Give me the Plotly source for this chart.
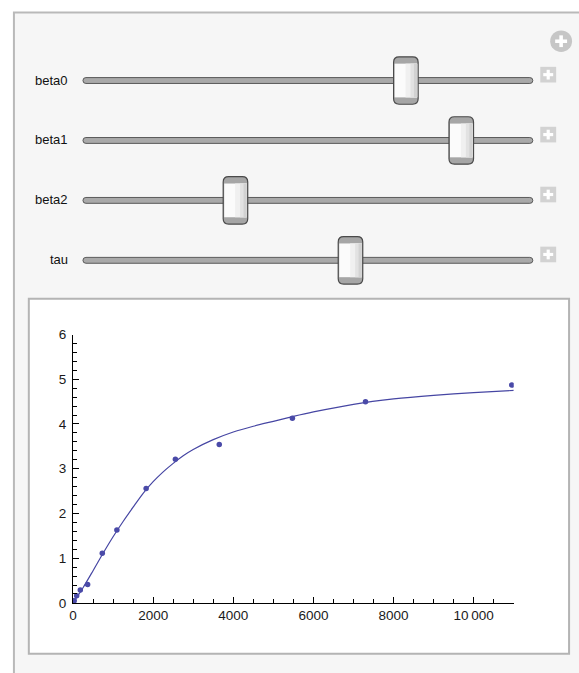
import plotly.graph_objects as go

# ---------------- data ----------------
maturity_days = [30, 91, 182, 365, 730, 1095, 1825, 2555, 3650, 5475, 7300, 10950]
observed_yield = [0.05, 0.16, 0.29, 0.41, 1.11, 1.63, 2.56, 3.21, 3.54, 4.13, 4.50, 4.87]

curve_days = [0, 250, 500, 750, 1000, 1250, 1500, 1750, 2000, 2250, 2500, 2750, 3000,
              3500, 4000, 4500, 5000, 5500, 6000, 7000, 8000, 9000, 10000, 11000]
curve_yield = [0.0, 0.34, 0.72, 1.11, 1.48, 1.82, 2.14, 2.45, 2.71, 2.93, 3.12, 3.29, 3.43,
               3.65, 3.82, 3.95, 4.06, 4.17, 4.27, 4.44, 4.56, 4.64, 4.70, 4.75]

slider_names = ["beta0", "beta1", "beta2", "tau"]
slider_values = [0.73, 0.86, 0.33, 0.60]   # normalised slider positions (0..1)

x_tick_vals = [0, 2000, 4000, 6000, 8000, 10000]
x_tick_text = ["0", "2000", "4000", "6000", "8000", "10\u2009000"]
y_tick_vals = [0, 1, 2, 3, 4, 5, 6]

# ---------------- geometry helpers (pixels -> paper) ----------------
W, H = 579, 673


def px(x):
    return x / W


def py(y):
    return 1 - y / H


def rrect_path(x0, y0, x1, y1, r):
    pts = [
        ("M", (x0 + r, y0)), ("L", (x1 - r, y0)), ("Q", (x1, y0), (x1, y0 + r)),
        ("L", (x1, y1 - r)), ("Q", (x1, y1), (x1 - r, y1)),
        ("L", (x0 + r, y1)), ("Q", (x0, y1), (x0, y1 - r)),
        ("L", (x0, y0 + r)), ("Q", (x0, y0), (x0 + r, y0)),
    ]
    s = ""
    for item in pts:
        cmd = item[0]
        coords = " ".join(f"{px(a):.5f},{py(b):.5f}" for a, b in item[1:])
        s += f"{cmd}{coords} "
    return s + "Z"


shapes = []
annotations = []


def rect(x0, y0, x1, y1, fill, line_color=None, lw=0, layer="above"):
    shapes.append(dict(type="rect", xref="paper", yref="paper",
                       x0=px(x0), x1=px(x1), y0=py(y1), y1=py(y0),
                       fillcolor=fill, layer=layer,
                       line=dict(color=line_color or fill, width=lw)))


def path(d, fill, line_color, lw=1, layer="above"):
    shapes.append(dict(type="path", xref="paper", yref="paper", path=d,
                       fillcolor=fill, layer=layer,
                       line=dict(color=line_color, width=lw)))


# outer manipulate panel
rect(10, 5.5, 600, 700, "#f6f6f6", "#b9b9b9", 2, layer="below")
# inner plot frame
rect(25, 298.5, 569, 661.5, "#ffffff", "#b4b4b4", 2, layer="below")

# top-right circular plus button
shapes.append(dict(type="circle", xref="paper", yref="paper",
                   x0=px(550), x1=px(572), y0=py(46), y1=py(24),
                   fillcolor="#c6c6c6", line=dict(color="#c6c6c6", width=0)))
rect(559.2, 29, 562.8, 41, "#ffffff")
rect(555, 33.2, 567, 36.8, "#ffffff")

# sliders
rail_x0, rail_x1 = 79.5, 532.5
row_y0, row_dy = 75.2, 61.3
thumb_w, thumb_h = 24.7, 48.5
for i, (name, val) in enumerate(zip(slider_names, slider_values)):
    yc = row_y0 + i * row_dy
    # rail
    path(rrect_path(rail_x0, yc - 3, rail_x1, yc + 3, 3), "#a9a9a9", "#5a5a5a", 1)
    # label
    annotations.append(dict(x=px(66.5), y=py(yc - 0.5), xref="paper", yref="paper",
                            text=name, showarrow=False, xanchor="right", yanchor="middle",
                            font=dict(family="Liberation Sans, Arial, sans-serif",
                                      size=13, color="#111111")))
    # plus box at right
    rect(540, yc - 14, 556, yc + 2, "#d2d2d2")
    rect(546.4, yc - 11, 549.6, yc - 1, "#ffffff")
    rect(543, yc - 7.6, 553, yc - 4.4, "#ffffff")
    # thumb
    xc = rail_x0 + 12 + val * (rail_x1 - rail_x0 - 24)
    tx0, tx1 = xc - thumb_w / 2, xc + thumb_w / 2
    ty0, ty1 = yc - thumb_h / 2, yc + thumb_h / 2
    path(rrect_path(tx0, ty0, tx1, ty1, 5.5), "#a6a6a6", "#4a4a4a", 1.2)
    rect(tx0 + 1, ty0 + 7, tx1 - 1, ty1 - 7, "#fbfbfb")
    rect(tx0 + 12, ty0 + 7, tx1 - 1, ty1 - 7, "#f0f0f0")
    rect(tx0 + 17, ty0 + 7, tx1 - 1, ty1 - 7, "#e2e2e2")
    rect(tx0 + 20.5, ty0 + 7, tx1 - 1, ty1 - 7, "#d2d2d2")

# ---------------- figure ----------------
mark_color = "#4a4aa8"
fig = go.Figure()
fig.add_trace(go.Scatter(x=curve_days, y=curve_yield, mode="lines",
                         line=dict(color="#4646a3", width=1.2, shape="spline", smoothing=0.8),
                         hoverinfo="skip", showlegend=False))
fig.add_trace(go.Scatter(x=maturity_days, y=observed_yield, mode="markers",
                         marker=dict(color=mark_color, size=5.5),
                         hoverinfo="skip", showlegend=False))

tick_font = dict(family="Liberation Sans, Arial, sans-serif", size=13.5, color="#1a1a1a")
fig.update_layout(
    width=W, height=H,
    margin=dict(l=0, r=0, t=0, b=0),
    paper_bgcolor="#ffffff",
    plot_bgcolor="rgba(0,0,0,0)",
    showlegend=False,
    shapes=shapes,
    annotations=annotations,
    xaxis=dict(domain=[px(69.5), px(513.3)], range=[0, 11000],
               showgrid=False, zeroline=False, showline=True, linecolor="#000000", linewidth=1,
               ticks="inside", ticklen=6, tickwidth=1, tickcolor="#000000",
               tickvals=x_tick_vals, ticktext=x_tick_text, tickfont=tick_font,
               minor=dict(dtick=500, ticks="inside", ticklen=3.5, tickcolor="#000000", showgrid=False),
               fixedrange=True),
    yaxis=dict(domain=[py(609.5), py(335)], range=[0, 6],
               showgrid=False, zeroline=False, showline=True, linecolor="#000000", linewidth=1,
               ticks="inside", ticklen=6, tickwidth=1, tickcolor="#000000",
               tickvals=y_tick_vals, tickfont=tick_font, ticklabelstandoff=3,
               minor=dict(dtick=0.2, ticks="inside", ticklen=3.5, tickcolor="#000000", showgrid=False),
               fixedrange=True),
)

fig.write_html("out.html", config={"displayModeBar": False},
               post_script="document.body.style.margin='0';document.body.style.overflow='hidden';")
